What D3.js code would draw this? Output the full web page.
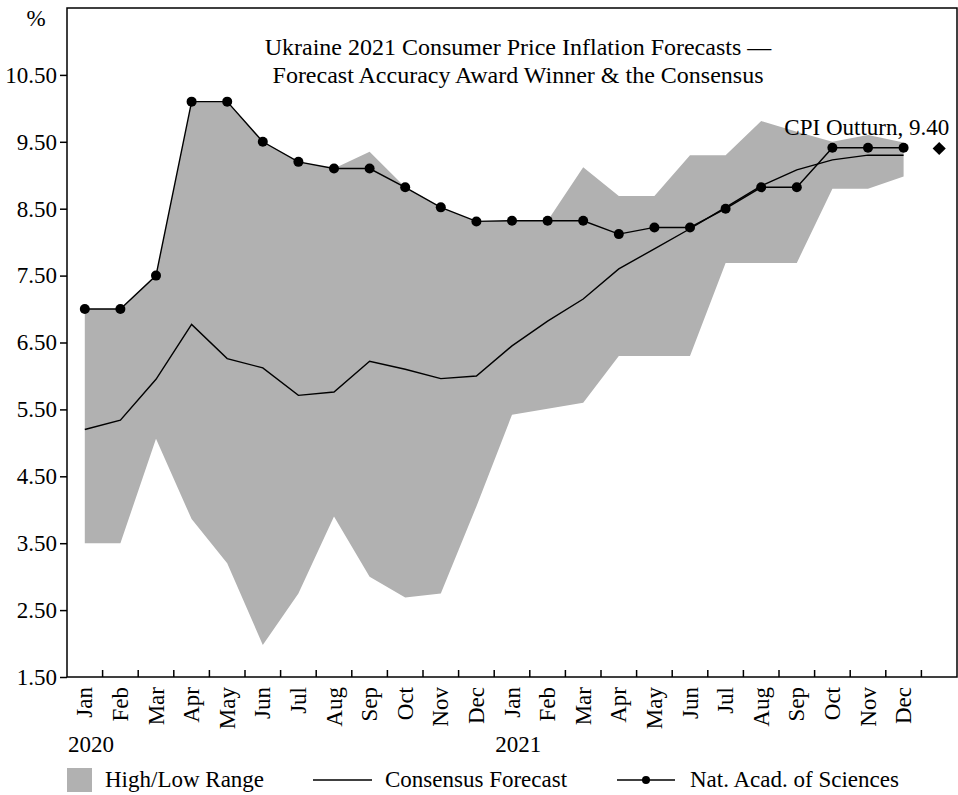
<!DOCTYPE html>
<html>
<head>
<meta charset="utf-8">
<script src="https://cdn.jsdelivr.net/npm/d3@7"></script>
<style>
  body { margin: 0; background: #fff; }
  svg { display: block; }
</style>
</head>
<body>
<script>
// months shown on the x axis (last slot is left empty for the outturn marker)
const months = ["Jan", "Feb", "Mar", "Apr", "May", "Jun", "Jul", "Aug", "Sep", "Oct", "Nov", "Dec",
  "Jan", "Feb", "Mar", "Apr", "May", "Jun", "Jul", "Aug", "Sep", "Oct", "Nov", "Dec", ""];
const years = [{ label: "2020", index: 0 }, { label: "2021", index: 12 }];

// forecast range, consensus and winner, Jan 2020 .. Dec 2021
const high = [7.0, 7.0, 7.5, 10.1, 10.1, 9.5, 9.2, 9.1, 9.35, 8.82, 8.52, 8.31,
  8.32, 8.32, 9.12, 8.69, 8.69, 9.3, 9.3, 9.81, 9.65, 9.5, 9.6, 9.49];
const low = [3.5, 3.5, 5.06, 3.86, 3.2, 1.98, 2.75, 3.9, 3.0, 2.69, 2.75, 4.05,
  5.42, 5.51, 5.6, 6.3, 6.3, 6.3, 7.69, 7.69, 7.69, 8.8, 8.8, 8.98];
const consensus = [5.2, 5.34, 5.95, 6.77, 6.26, 6.12, 5.71, 5.76, 6.22, 6.1, 5.96, 6.0,
  6.45, 6.82, 7.15, 7.6, 7.9, 8.2, 8.52, 8.84, 9.08, 9.23, 9.3, 9.3];
const nas = [7.0, 7.0, 7.5, 10.1, 10.1, 9.5, 9.2, 9.1, 9.1, 8.82, 8.52, 8.31,
  8.32, 8.32, 8.32, 8.12, 8.22, 8.22, 8.5, 8.82, 8.82, 9.41, 9.41, 9.41];
const outturn = { index: 24, value: 9.4, label: "CPI Outturn, 9.40" };

const yTicks = [1.5, 2.5, 3.5, 4.5, 5.5, 6.5, 7.5, 8.5, 9.5, 10.5];
const titleLines = ["Ukraine 2021 Consumer Price Inflation Forecasts \u2014",
  "Forecast Accuracy Award Winner & the Consensus"];

const width = 958;
const height = 795;
const marginTop = 8;
const marginRight = 1;
const marginBottom = 118;
const marginLeft = 67;
const font = "'Liberation Serif', 'Times New Roman', serif";
const fontSize = 23;
const rangeColor = "#b1b1b1";

const x = d3.scaleBand(d3.range(months.length), [marginLeft, width - marginRight]).padding(0);
const cx = (i) => x(i) + x.bandwidth() / 2;
const y = d3.scaleLinear([1.5, 11.5], [height - marginBottom, marginTop]);

const svg = d3.select("body").append("svg")
  .attr("width", width)
  .attr("height", height)
  .attr("viewBox", [0, 0, width, height])
  .attr("font-family", font)
  .attr("font-size", fontSize);

const I = d3.range(high.length);

// high/low range
svg.append("path")
  .datum(I)
  .attr("fill", rangeColor)
  .attr("d", d3.area().x(cx).y0((i) => y(low[i])).y1((i) => y(high[i])));

// consensus
svg.append("path")
  .datum(I)
  .attr("fill", "none")
  .attr("stroke", "#000")
  .attr("stroke-width", 1.4)
  .attr("d", d3.line().x(cx).y((i) => y(consensus[i])));

// winner
svg.append("path")
  .datum(I)
  .attr("fill", "none")
  .attr("stroke", "#000")
  .attr("stroke-width", 1.4)
  .attr("d", d3.line().x(cx).y((i) => y(nas[i])));

svg.append("g")
  .selectAll("circle")
  .data(I)
  .join("circle")
  .attr("cx", cx)
  .attr("cy", (i) => y(nas[i]))
  .attr("r", 5);

// outturn marker
svg.append("path")
  .attr("d", d3.symbol(d3.symbolDiamond2, 110)())
  .attr("transform", `translate(${cx(outturn.index)},${y(outturn.value)})`);

svg.append("text")
  .attr("x", cx(outturn.index) + 10)
  .attr("y", y(outturn.value) - 13)
  .attr("text-anchor", "end")
  .text(outturn.label);

// frame
svg.append("rect")
  .attr("x", marginLeft)
  .attr("y", marginTop)
  .attr("width", width - marginRight - marginLeft)
  .attr("height", height - marginBottom - marginTop)
  .attr("fill", "none")
  .attr("stroke", "#000")
  .attr("stroke-width", 1.5);

// y axis
const yAxis = d3.axisLeft(y).tickValues(yTicks).tickFormat(d3.format(".2f")).tickSize(7).tickPadding(3);
svg.append("g")
  .attr("transform", `translate(${marginLeft},0)`)
  .call(yAxis)
  .call((g) => g.select(".domain").remove())
  .call((g) => g.selectAll(".tick line").attr("stroke-width", 1.5))
  .call((g) => g.selectAll(".tick text")
    .attr("font-family", font)
    .attr("font-size", fontSize)
    .attr("fill", "#000"));

svg.append("text")
  .attr("x", 36)
  .attr("y", 26)
  .attr("text-anchor", "middle")
  .text("%");

// x axis: ticks between months, pointing inward
svg.append("g")
  .selectAll("line")
  .data(d3.range(1, months.length))
  .join("line")
  .attr("x1", (i) => x(i))
  .attr("x2", (i) => x(i))
  .attr("y1", y(1.5))
  .attr("y2", y(1.5) - 7)
  .attr("stroke", "#000")
  .attr("stroke-width", 1.5);

svg.append("g")
  .selectAll("text")
  .data(months.map((m, i) => [m, i]).filter((d) => d[0]))
  .join("text")
  .attr("transform", (d) => `translate(${cx(d[1])},${y(1.5) + 10}) rotate(-90)`)
  .attr("text-anchor", "end")
  .attr("dy", "0.33em")
  .text((d) => d[0]);

svg.append("g")
  .selectAll("text")
  .data(years)
  .join("text")
  .attr("x", (d) => x(d.index) + 1)
  .attr("y", 752)
  .text((d) => d.label);

// title
svg.append("g")
  .attr("text-anchor", "middle")
  .attr("font-size", 24)
  .selectAll("text")
  .data(titleLines)
  .join("text")
  .attr("x", 518)
  .attr("y", (d, i) => 55 + i * 28)
  .text((d) => d);

// legend
const legendY = 780;
const legend = svg.append("g");
legend.append("rect")
  .attr("x", 67).attr("y", legendY - 12)
  .attr("width", 25).attr("height", 24)
  .attr("fill", rangeColor);
legend.append("text").attr("x", 105).attr("y", legendY + 7).text("High/Low Range");
legend.append("line")
  .attr("x1", 313).attr("x2", 372).attr("y1", legendY).attr("y2", legendY)
  .attr("stroke", "#000").attr("stroke-width", 1.4);
legend.append("text").attr("x", 385).attr("y", legendY + 7).text("Consensus Forecast");
legend.append("line")
  .attr("x1", 617).attr("x2", 675).attr("y1", legendY).attr("y2", legendY)
  .attr("stroke", "#000").attr("stroke-width", 1.4);
legend.append("circle").attr("cx", 646).attr("cy", legendY).attr("r", 4);
legend.append("text").attr("x", 690).attr("y", legendY + 7).text("Nat. Acad. of Sciences");
</script>
</body>
</html>
